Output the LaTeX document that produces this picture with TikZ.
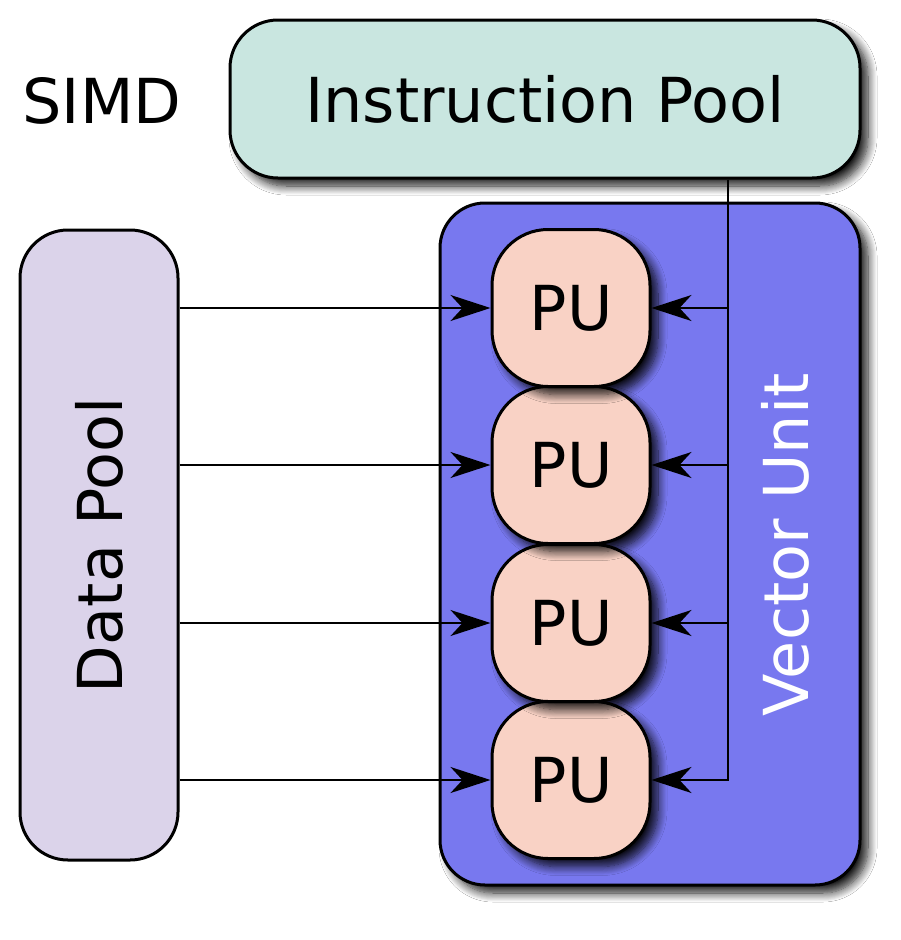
\documentclass[tikz,border=0pt]{standalone}
\usepackage{fontspec}
\setmainfont{DejaVu Sans}
\usetikzlibrary{arrows.meta,shadows.blur}
\definecolor{instrfill}{HTML}{C9E6E0}
\definecolor{datafill}{HTML}{DBD3EA}
\definecolor{vecfill}{HTML}{7878EF}
\definecolor{pufill}{HTML}{F9D2C5}
\begin{document}
\begin{tikzpicture}[x=1pt,y=-1pt,
        box/.style={draw,line width=3pt,rounded corners=48pt,inner sep=0pt},
        shade/.style={blur shadow={shadow xshift=8pt,shadow yshift=-8pt,shadow blur radius=9pt,shadow blur steps=10,shadow opacity=90}},
        bigtext/.style={font=\fontsize{62}{70}\selectfont},
        pu/.style={box,fill=pufill,minimum width=158pt,minimum height=157pt,rounded corners=56pt,shade,bigtext},
        link/.style={line width=2pt,-{Stealth[length=40pt,width=26pt,inset=12pt]}}]
        \useasboundingbox[fill=white] (0,0) rectangle (900,940);

        \node[box,fill=vecfill,minimum width=420pt,minimum height=682pt,rounded corners=45pt,shade] (vec) at (650,544) {};
        \node[bigtext,text=white,rotate=90] (veclabel) at (785,545) {Vector Unit};

        \node[pu] (pu4) at (571,780) {PU};
        \node[pu] (pu3) at (571,623) {PU};
        \node[pu] (pu2) at (571,465) {PU};
        \node[pu] (pu1) at (571,308) {PU};

        \node[box,fill=instrfill,minimum width=630pt,minimum height=158pt,shade,bigtext] (ipool) at (545,99) {Instruction Pool};
        \node[box,fill=datafill,minimum width=158pt,minimum height=630pt,bigtext] (dpool) at (99,545) {};
        \node[bigtext,rotate=90] (dlabel) at (99,545) {Data Pool};
        \node[bigtext] (simd) at (102,101) {SIMD};

        \coordinate (bus) at (728,780);
        \path[draw,link] (ipool.south -| bus) |- (pu4.east);
        \foreach \i in {1,2,3} {
            \path[draw,link] (pu\i.east -| bus) -- (pu\i.east);
        }
        \foreach \i in {1,...,4} {
            \path[draw,link] (pu\i.west -| dpool.east) -- (pu\i.west);
        }
    \end{tikzpicture}
\end{document}
